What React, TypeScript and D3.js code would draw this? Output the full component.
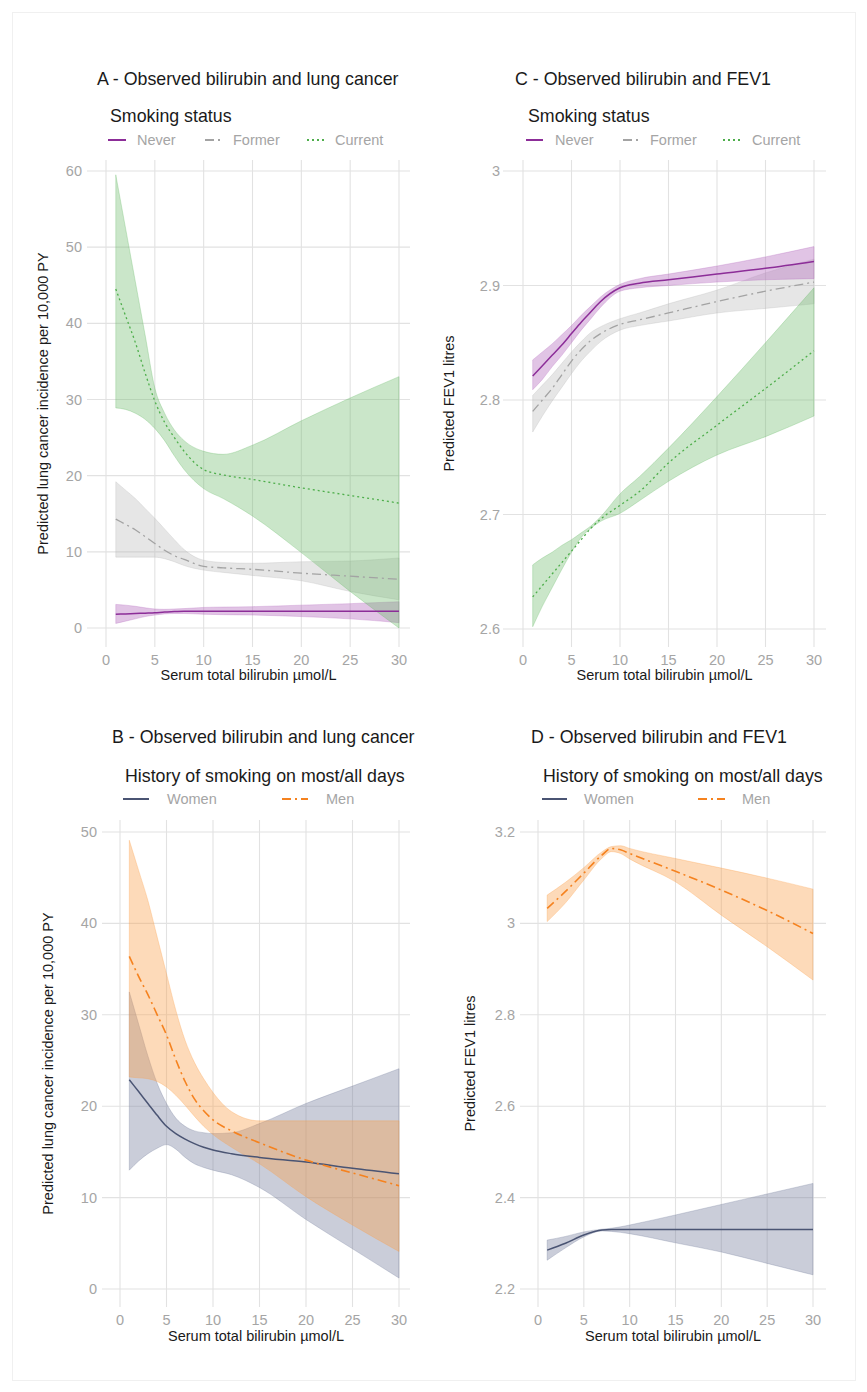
import React from 'react'
import * as d3 from 'd3'

// bilirubin positions (umol/L)
const xsTop = [1, 2, 3, 4, 5, 6, 7, 8, 10, 12, 15, 20, 25, 30]
const xsB = [1, 2, 3, 4, 5, 6, 7, 8, 9, 10, 12, 15, 20, 25, 30]
const xsD = [1, 3, 5, 7, 8, 9, 10, 15, 20, 25, 30]

// A - lung cancer incidence per 10,000 PY by smoking status
const aNeverMid = [1.8, 1.85, 1.9, 1.95, 2.0, 2.1, 2.15, 2.2, 2.2, 2.2, 2.2, 2.2, 2.2, 2.2]
const aNeverHi = [3.1, 3.0, 2.85, 2.65, 2.5, 2.45, 2.5, 2.55, 2.7, 2.75, 2.8, 3.0, 3.2, 3.45]
const aNeverLo = [0.6, 0.9, 1.2, 1.5, 1.7, 1.85, 1.9, 1.9, 1.8, 1.75, 1.7, 1.5, 1.2, 0.7]
const aFormerMid = [14.3, 13.6, 12.9, 12.0, 11.1, 10.2, 9.5, 9.0, 8.1, 7.9, 7.7, 7.2, 6.8, 6.4]
const aFormerHi = [19.2, 18.1, 17.0, 15.7, 14.4, 13.0, 11.6, 10.3, 8.9, 8.6, 8.5, 8.7, 8.8, 9.2]
const aFormerLo = [9.3, 9.3, 9.3, 9.3, 9.3, 9.1, 8.7, 8.2, 7.6, 7.3, 6.9, 6.2, 4.8, 3.7]
const aCurrentMid = [44.5, 41, 37.5, 33.5, 29.8, 27.0, 25.0, 23.2, 20.8, 20.1, 19.5, 18.4, 17.4, 16.4]
const aCurrentHi = [59.5, 52.5, 45.5, 38.5, 31.5, 28.2, 26.0, 24.6, 23.2, 22.8, 24.0, 27.2, 30.2, 33]
const aCurrentLo = [28.9, 28.7, 28.2, 27.4, 26.2, 24.6, 22.6, 20.8, 18.3, 17.0, 14.7, 9.9, 4.8, 0.0]

// C - FEV1 litres by smoking status
const cNeverMid = [2.821, 2.830, 2.839, 2.848, 2.858, 2.868, 2.877, 2.886, 2.898, 2.902, 2.905, 2.910, 2.915, 2.921]
const cNeverHi = [2.835, 2.842, 2.849, 2.857, 2.865, 2.874, 2.882, 2.890, 2.901, 2.906, 2.910, 2.917, 2.925, 2.934]
const cNeverLo = [2.809, 2.818, 2.829, 2.839, 2.850, 2.861, 2.871, 2.881, 2.895, 2.898, 2.900, 2.903, 2.905, 2.906]
const cFormerMid = [2.790, 2.800, 2.810, 2.822, 2.834, 2.844, 2.852, 2.858, 2.866, 2.870, 2.876, 2.886, 2.895, 2.903]
const cFormerHi = [2.804, 2.813, 2.822, 2.832, 2.842, 2.851, 2.859, 2.864, 2.871, 2.876, 2.884, 2.896, 2.911, 2.923]
const cFormerLo = [2.772, 2.786, 2.799, 2.811, 2.823, 2.834, 2.843, 2.851, 2.861, 2.865, 2.869, 2.876, 2.880, 2.884]
const cCurrentMid = [2.628, 2.638, 2.648, 2.658, 2.668, 2.678, 2.688, 2.696, 2.708, 2.720, 2.745, 2.778, 2.810, 2.843]
const cCurrentHi = [2.656, 2.662, 2.667, 2.673, 2.678, 2.684, 2.690, 2.698, 2.718, 2.733, 2.758, 2.803, 2.850, 2.898]
const cCurrentLo = [2.602, 2.620, 2.636, 2.652, 2.667, 2.680, 2.688, 2.694, 2.701, 2.712, 2.729, 2.752, 2.768, 2.786]

// B - lung cancer incidence, history of smoking on most/all days
const bWomenMid = [22.9, 21.6, 20.3, 19.0, 17.8, 17.0, 16.4, 15.9, 15.5, 15.2, 14.8, 14.4, 13.9, 13.2, 12.6]
const bWomenHi = [32.5, 29.0, 25.5, 22.5, 20.3, 18.7, 17.8, 17.3, 17.1, 17.0, 17.1, 18.1, 20.3, 22.2, 24.1]
const bWomenLo = [13.0, 14.0, 14.8, 15.4, 15.8, 15.3, 14.4, 13.7, 13.3, 13.0, 12.5, 11.1, 7.6, 4.4, 1.2]
const bMenMid = [36.4, 34.2, 32.2, 30.0, 27.8, 25.1, 22.7, 20.8, 19.5, 18.5, 17.3, 16.0, 14.1, 12.7, 11.3]
const bMenHi = [49.1, 45.8, 42.5, 38.5, 34.5, 30.5, 27.2, 24.8, 23.0, 21.5, 19.4, 18.4, 18.4, 18.4, 18.4]
const bMenLo = [23.2, 23.1, 23.0, 22.7, 22.1, 21.2, 20.1, 18.9, 17.8, 16.9, 15.5, 13.7, 10.1, 7.0, 4.1]

// D - FEV1 litres, history of smoking on most/all days
const dWomenMid = [2.285, 2.300, 2.318, 2.329, 2.330, 2.330, 2.330, 2.330, 2.330, 2.330, 2.330]
const dWomenHi = [2.307, 2.315, 2.325, 2.331, 2.333, 2.336, 2.340, 2.362, 2.385, 2.408, 2.431]
const dWomenLo = [2.263, 2.290, 2.314, 2.327, 2.326, 2.324, 2.321, 2.301, 2.281, 2.256, 2.231]
const dMenMid = [3.033, 3.070, 3.110, 3.150, 3.164, 3.161, 3.153, 3.114, 3.073, 3.028, 2.978]
const dMenHi = [3.062, 3.090, 3.122, 3.157, 3.168, 3.170, 3.164, 3.142, 3.121, 3.099, 3.075]
const dMenLo = [3.004, 3.045, 3.095, 3.143, 3.157, 3.153, 3.141, 3.091, 3.018, 2.949, 2.876]

const xTicks = [0, 5, 10, 15, 20, 25, 30]
const aTicks = [0, 10, 20, 30, 40, 50, 60]
const cTicks = [2.6, 2.7, 2.8, 2.9, 3.0]
const bTicks = [0, 10, 20, 30, 40, 50]
const dTicks = [2.2, 2.4, 2.6, 2.8, 3.0, 3.2]

const FONT = 'Liberation Sans, Arial, Helvetica, sans-serif'
const fmt = d3.format('~g')

const sty = {
  never: { line: '#8c2d98', fill: '#b46cbf', op: 0.4, dash: '', w: 1.5 },
  former: { line: '#a3a3a3', fill: '#b8b8b8', op: 0.35, dash: '9,4,2,4', w: 1.3 },
  current: { line: '#4eae4b', fill: '#66b863', op: 0.35, dash: '2,3', w: 1.3 },
  women: { line: '#4a5473', fill: '#737b9c', op: 0.38, dash: '', w: 1.5 },
  men: { line: '#f5821f', fill: '#fb9d48', op: 0.38, dash: '9,4,2,4', w: 1.6 },
}

type Style = typeof sty.never
type Series = { xs: number[]; mid: number[]; lo: number[]; hi: number[]; s: Style }
type LegendItem = { label: string; k0: number; k1: number; tx: number; s: Style }

type PanelProps = {
  title: string; titleX: number; titleY: number
  legendTitle: string; legTitleX: number; legTitleY: number; legY: number
  legend: LegendItem[]
  xRange: [number, number]; yDomain: [number, number]; yRange: [number, number]
  yTicks: number[]; hgrid: [number, number]; vgrid: [number, number]
  yTickX: number; xTickY: number; xTitleY: number
  yTitle: string; yTitleX: number
  series: Series[]
}

function Panel(p: PanelProps) {
  const x = d3.scaleLinear().domain([0, 30]).range(p.xRange)
  const y = d3.scaleLinear().domain(p.yDomain).range(p.yRange)
  const yMid = (p.vgrid[0] + p.vgrid[1]) / 2
  const xMid = (p.hgrid[0] + p.hgrid[1]) / 2
  return (
    <g fontFamily={FONT}>
      <text x={p.titleX} y={p.titleY} fontSize={17.8} fill="#1a1a1a">{p.title}</text>
      <text x={p.legTitleX} y={p.legTitleY} fontSize={17.8} fill="#1a1a1a">{p.legendTitle}</text>
      {p.legend.map(l => (
        <g key={l.label}>
          <line x1={l.k0} x2={l.k1} y1={p.legY} y2={p.legY} stroke={l.s.line} strokeWidth={2}
            strokeDasharray={l.s.dash} />
          <text x={l.tx} y={p.legY + 5} fontSize={14.5} fill="#a5a5a5">{l.label}</text>
        </g>
      ))}
      {xTicks.map(t => (
        <line key={'v' + t} x1={x(t)} x2={x(t)} y1={p.vgrid[0]} y2={p.vgrid[1]} stroke="#e2e2e2" strokeWidth={1.1} />
      ))}
      {p.yTicks.map(t => (
        <line key={'h' + t} x1={p.hgrid[0]} x2={p.hgrid[1]} y1={y(t)} y2={y(t)} stroke="#e2e2e2" strokeWidth={1.1} />
      ))}
      {p.series.map((sr, i) => {
        const pts = sr.xs.map((v, j) => ({ x: v, m: sr.mid[j], lo: sr.lo[j], hi: sr.hi[j] }))
        const area = d3.area<any>().x(d => x(d.x)).y0(d => y(d.lo)).y1(d => y(d.hi)).curve(d3.curveMonotoneX)
        return <path key={'a' + i} d={area(pts) || ''} fill={sr.s.fill} fillOpacity={sr.s.op}
          stroke={sr.s.fill} strokeOpacity={0.5} strokeWidth={0.6} />
      })}
      {p.series.map((sr, i) => {
        const pts = sr.xs.map((v, j) => ({ x: v, m: sr.mid[j] }))
        const line = d3.line<any>().x(d => x(d.x)).y(d => y(d.m)).curve(d3.curveMonotoneX)
        return <path key={'l' + i} d={line(pts) || ''} fill="none" stroke={sr.s.line}
          strokeWidth={sr.s.w} strokeDasharray={sr.s.dash} />
      })}
      {p.yTicks.map(t => (
        <text key={'yt' + t} x={p.yTickX} y={y(t) + 5} fontSize={14.5} fill="#a5a5a5" textAnchor="end">{fmt(t)}</text>
      ))}
      {xTicks.map(t => (
        <text key={'xt' + t} x={x(t)} y={p.xTickY} fontSize={14.5} fill="#a5a5a5" textAnchor="middle">{t}</text>
      ))}
      <text x={xMid} y={p.xTitleY} fontSize={14.5} fill="#1a1a1a" textAnchor="middle">Serum total bilirubin µmol/L</text>
      <text transform={`translate(${p.yTitleX},${yMid}) rotate(-90)`} fontSize={14.5} fill="#1a1a1a"
        textAnchor="middle" dominantBaseline="central">{p.yTitle}</text>
    </g>
  )
}

export default function App() {
  const legA: LegendItem[] = [
    { label: 'Never', k0: 108, k1: 126, tx: 137, s: sty.never },
    { label: 'Former', k0: 205, k1: 223, tx: 233, s: sty.former },
    { label: 'Current', k0: 307, k1: 325, tx: 335, s: sty.current },
  ]
  const legC: LegendItem[] = [
    { label: 'Never', k0: 526, k1: 543, tx: 555, s: sty.never },
    { label: 'Former', k0: 623, k1: 641, tx: 650, s: sty.former },
    { label: 'Current', k0: 723, k1: 741, tx: 752, s: sty.current },
  ]
  const legB: LegendItem[] = [
    { label: 'Women', k0: 123, k1: 149, tx: 167, s: sty.women },
    { label: 'Men', k0: 282, k1: 308, tx: 326, s: sty.men },
  ]
  const legD: LegendItem[] = [
    { label: 'Women', k0: 542, k1: 567, tx: 584, s: sty.women },
    { label: 'Men', k0: 698, k1: 725, tx: 742, s: sty.men },
  ]
  return (
    <svg width={867} height={1392} style={{ position: 'absolute', left: 0, top: 0, background: '#fff' }}>
      <rect x={12.5} y={12.5} width={843} height={1368} fill="none" stroke="#f0f0f0" />
      <Panel title="A - Observed bilirubin and lung cancer" titleX={97} titleY={85}
        legendTitle="Smoking status" legTitleX={110} legTitleY={122} legY={140} legend={legA}
        xRange={[106, 399]} yDomain={[0, 60]} yRange={[628, 171]} yTicks={aTicks}
        hgrid={[87, 410]} vgrid={[160, 647]} yTickX={82} xTickY={665} xTitleY={680}
        yTitle="Predicted lung cancer incidence per 10,000 PY" yTitleX={43}
        series={[
          { xs: xsTop, mid: aFormerMid, lo: aFormerLo, hi: aFormerHi, s: sty.former },
          { xs: xsTop, mid: aNeverMid, lo: aNeverLo, hi: aNeverHi, s: sty.never },
          { xs: xsTop, mid: aCurrentMid, lo: aCurrentLo, hi: aCurrentHi, s: sty.current },
        ]} />
      <Panel title="C - Observed bilirubin and FEV1" titleX={515} titleY={85}
        legendTitle="Smoking status" legTitleX={528} legTitleY={122} legY={140} legend={legC}
        xRange={[523, 814]} yDomain={[2.6, 3.0]} yRange={[629, 171]} yTicks={cTicks}
        hgrid={[503, 826]} vgrid={[160, 647]} yTickX={500} xTickY={665} xTitleY={680}
        yTitle="Predicted FEV1 litres" yTitleX={449}
        series={[
          { xs: xsTop, mid: cFormerMid, lo: cFormerLo, hi: cFormerHi, s: sty.former },
          { xs: xsTop, mid: cNeverMid, lo: cNeverLo, hi: cNeverHi, s: sty.never },
          { xs: xsTop, mid: cCurrentMid, lo: cCurrentLo, hi: cCurrentHi, s: sty.current },
        ]} />
      <Panel title="B - Observed bilirubin and lung cancer" titleX={112} titleY={743}
        legendTitle="History of smoking on most/all days" legTitleX={125} legTitleY={782} legY={799} legend={legB}
        xRange={[120, 399]} yDomain={[0, 50]} yRange={[1289, 832]} yTicks={bTicks}
        hgrid={[102, 410]} vgrid={[820, 1307]} yTickX={97} xTickY={1325} xTitleY={1341}
        yTitle="Predicted lung cancer incidence per 10,000 PY" yTitleX={48}
        series={[
          { xs: xsB, mid: bWomenMid, lo: bWomenLo, hi: bWomenHi, s: sty.women },
          { xs: xsB, mid: bMenMid, lo: bMenLo, hi: bMenHi, s: sty.men },
        ]} />
      <Panel title="D - Observed bilirubin and FEV1" titleX={531} titleY={743}
        legendTitle="History of smoking on most/all days" legTitleX={543} legTitleY={782} legY={799} legend={legD}
        xRange={[538, 813]} yDomain={[2.2, 3.2]} yRange={[1289, 832]} yTicks={dTicks}
        hgrid={[520, 826]} vgrid={[820, 1307]} yTickX={515} xTickY={1325} xTitleY={1341}
        yTitle="Predicted FEV1 litres" yTitleX={470}
        series={[
          { xs: xsD, mid: dWomenMid, lo: dWomenLo, hi: dWomenHi, s: sty.women },
          { xs: xsD, mid: dMenMid, lo: dMenLo, hi: dMenHi, s: sty.men },
        ]} />
    </svg>
  )
}
